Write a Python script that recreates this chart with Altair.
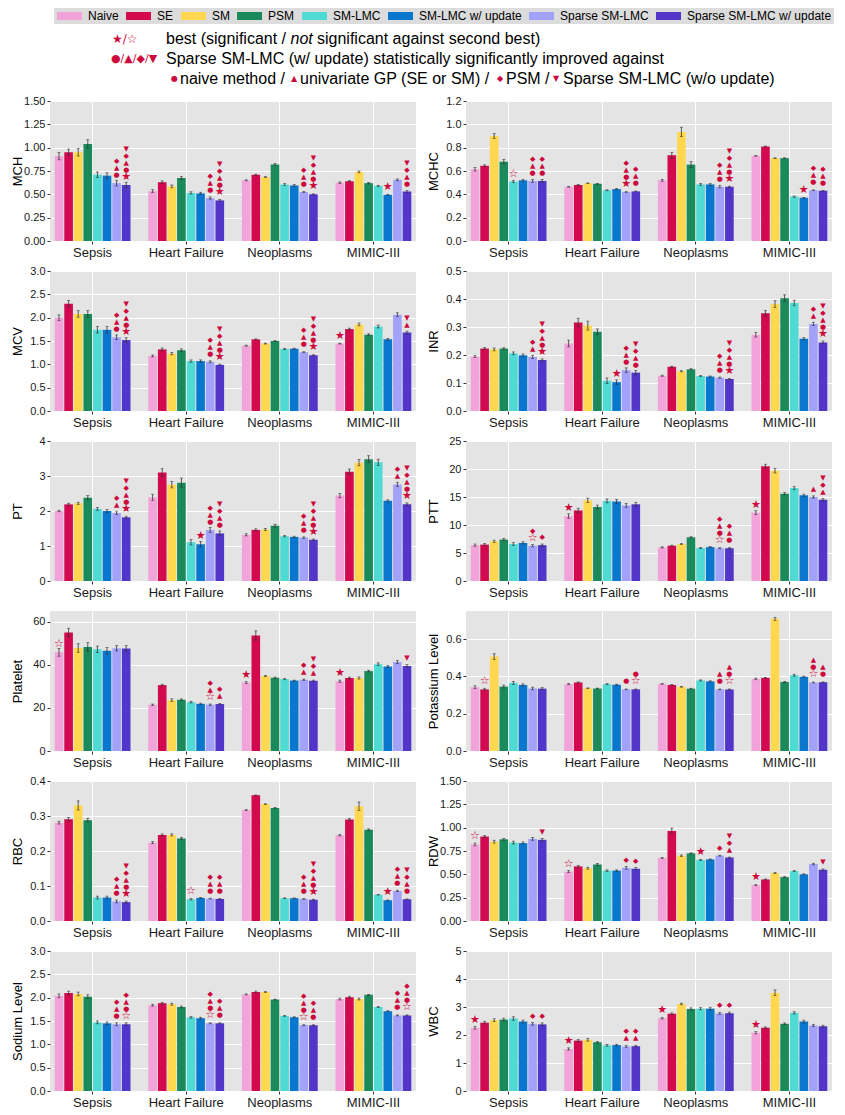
import altair as alt
import pandas as pd

DATASETS = ["Sepsis", "Heart Failure", "Neoplasms", "MIMIC-III"]
METHODS = ["Naive", "SE", "SM", "PSM", "SM-LMC", "SM-LMC w/ update",
           "Sparse SM-LMC", "Sparse SM-LMC w/ update"]
COLORS = ["#F2A3D9", "#D2094E", "#FFD84F", "#1B8A5A", "#4FDBD3", "#0A77CE",
          "#A2A2FB", "#5236C9"]
MARK_RED = "#CC0A3C"
ERR_COLOR = "#333333"

# marker codes: S = best (significant), s = best (not significant),
# c = vs naive, t = vs univariate GP, d = vs PSM, v = vs Sparse SM-LMC (w/o update)
GLYPHS = {"S": "★", "s": "☆", "c": "●", "t": "▲", "d": "◆", "v": "▼"}

# ---------------- data (rows: datasets, cols: methods) ----------------
MCH_VALUES = [[0.91, 0.95, 0.95, 1.04, 0.71, 0.70, 0.62, 0.60],
              [0.535, 0.63, 0.585, 0.675, 0.515, 0.51, 0.46, 0.435],
              [0.65, 0.71, 0.685, 0.82, 0.605, 0.595, 0.525, 0.50],
              [0.625, 0.64, 0.74, 0.62, 0.59, 0.495, 0.655, 0.53]]
MCH_ERRORS = [[0.04, 0.035, 0.04, 0.045, 0.03, 0.03, 0.03, 0.03],
              [0.015, 0.015, 0.015, 0.015, 0.012, 0.012, 0.012, 0.01],
              [0.005, 0.006, 0.005, 0.01, 0.01, 0.01, 0.005, 0.005],
              [0.008, 0.006, 0.01, 0.008, 0.005, 0.005, 0.01, 0.01]]
MCH_MARKS = [["", "", "", "", "", "", "ctd", "Sctdv"],
             ["", "", "", "", "", "", "ctd", "Sctdv"],
             ["", "", "", "", "", "", "ctd", "Sctdv"],
             ["", "", "", "", "", "S", "", "ctdv"]]

MCHC_VALUES = [[0.615, 0.645, 0.90, 0.68, 0.51, 0.52, 0.515, 0.515],
               [0.465, 0.48, 0.495, 0.49, 0.435, 0.445, 0.42, 0.425],
               [0.52, 0.735, 0.935, 0.655, 0.485, 0.485, 0.465, 0.465],
               [0.73, 0.81, 0.71, 0.71, 0.38, 0.37, 0.435, 0.43]]
MCHC_ERRORS = [[0.015, 0.008, 0.02, 0.02, 0.01, 0.008, 0.012, 0.012],
               [0.003, 0.004, 0.003, 0.004, 0.004, 0.004, 0.003, 0.003],
               [0.008, 0.025, 0.04, 0.025, 0.008, 0.008, 0.01, 0.005],
               [0.003, 0.004, 0.003, 0.003, 0.005, 0.003, 0.003, 0.003]]
MCHC_MARKS = [["", "", "", "", "s", "", "ctd", "ctd"],
              ["", "", "", "", "", "", "Sctd", "ctd"],
              ["", "", "", "", "", "", "ctd", "Sctdv"],
              ["", "", "", "", "", "S", "ctd", "ctd"]]

MCV_VALUES = [[2.00, 2.30, 2.08, 2.08, 1.74, 1.74, 1.58, 1.52],
              [1.18, 1.32, 1.23, 1.30, 1.07, 1.07, 1.055, 0.99],
              [1.40, 1.535, 1.445, 1.50, 1.33, 1.335, 1.26, 1.195],
              [1.445, 1.755, 1.855, 1.635, 1.81, 1.535, 2.065, 1.68]]
MCV_ERRORS = [[0.06, 0.07, 0.07, 0.07, 0.07, 0.07, 0.05, 0.05],
              [0.02, 0.03, 0.025, 0.03, 0.025, 0.025, 0.02, 0.015],
              [0.01, 0.01, 0.01, 0.01, 0.01, 0.01, 0.01, 0.01],
              [0.01, 0.02, 0.03, 0.02, 0.03, 0.02, 0.04, 0.03]]
MCV_MARKS = [["", "", "", "", "", "", "ctd", "Sctdv"],
             ["", "", "", "", "", "", "ctd", "Sctdv"],
             ["", "", "", "", "", "", "ctd", "Sctdv"],
             ["S", "", "", "", "", "", "", "tv"]]

INR_VALUES = [[0.195, 0.223, 0.22, 0.223, 0.206, 0.199, 0.193, 0.182],
              [0.241, 0.316, 0.305, 0.283, 0.108, 0.103, 0.146, 0.137],
              [0.126, 0.158, 0.142, 0.149, 0.125, 0.123, 0.119, 0.114],
              [0.272, 0.349, 0.382, 0.403, 0.386, 0.258, 0.311, 0.245]]
INR_ERRORS = [[0.004, 0.004, 0.005, 0.003, 0.005, 0.005, 0.005, 0.004],
              [0.012, 0.015, 0.016, 0.01, 0.01, 0.008, 0.008, 0.008],
              [0.002, 0.002, 0.002, 0.002, 0.002, 0.002, 0.002, 0.002],
              [0.008, 0.01, 0.012, 0.012, 0.01, 0.004, 0.006, 0.005]]
INR_MARKS = [["", "", "", "", "", "", "td", "Sctdv"],
             ["", "", "", "", "", "S", "ctd", "ctdv"],
             ["", "", "", "", "", "", "ctd", "Sctdv"],
             ["", "", "", "", "", "", "td", "Sctdv"]]

PT_VALUES = [[2.0, 2.19, 2.22, 2.38, 2.06, 2.0, 1.94, 1.82],
             [2.39, 3.10, 2.75, 2.81, 1.11, 1.05, 1.46, 1.36],
             [1.32, 1.46, 1.47, 1.58, 1.28, 1.26, 1.24, 1.18],
             [2.44, 3.12, 3.38, 3.48, 3.39, 2.29, 2.76, 2.19]]
PT_ERRORS = [[0.02, 0.03, 0.03, 0.06, 0.04, 0.04, 0.04, 0.03],
             [0.09, 0.11, 0.09, 0.13, 0.08, 0.08, 0.07, 0.07],
             [0.03, 0.03, 0.03, 0.04, 0.02, 0.02, 0.02, 0.02],
             [0.06, 0.08, 0.09, 0.10, 0.09, 0.03, 0.06, 0.04]]
PT_MARKS = [["", "", "", "", "", "", "td", "Sctdv"],
            ["", "", "", "", "", "S", "ctd", "ctdv"],
            ["", "", "", "", "", "", "ctd", "Sctdv"],
            ["", "", "", "", "", "", "td", "Sctdv"]]

PTT_VALUES = [[6.4, 6.5, 7.1, 7.4, 6.6, 6.8, 6.3, 6.4],
              [11.6, 12.6, 14.4, 13.2, 14.3, 14.2, 13.5, 13.7],
              [6.0, 6.3, 6.6, 7.8, 5.9, 6.05, 5.85, 5.85],
              [12.2, 20.5, 19.7, 15.6, 16.6, 15.3, 15.0, 14.5]]
PTT_ERRORS = [[0.2, 0.2, 0.2, 0.2, 0.25, 0.2, 0.2, 0.2],
              [0.4, 0.4, 0.4, 0.35, 0.35, 0.35, 0.35, 0.35],
              [0.1, 0.1, 0.1, 0.1, 0.1, 0.1, 0.1, 0.1],
              [0.35, 0.35, 0.4, 0.2, 0.3, 0.2, 0.2, 0.25]]
PTT_MARKS = [["", "", "", "", "", "", "sd", "d"],
             ["S", "", "", "", "", "", "", ""],
             ["", "", "", "", "", "", "sctd", "ctd"],
             ["S", "", "", "", "", "", "t", "tdv"]]

PLATELET_VALUES = [[45.8, 55.0, 47.8, 48.3, 47.2, 46.5, 47.7, 47.6],
                   [21.5, 30.6, 23.6, 23.8, 22.7, 21.9, 21.5, 21.8],
                   [31.8, 53.6, 34.8, 34.0, 33.4, 32.7, 33.1, 32.6],
                   [32.4, 33.9, 33.9, 37.1, 40.3, 39.2, 41.3, 39.5]]
PLATELET_ERRORS = [[1.8, 2.0, 2.0, 2.0, 1.5, 1.5, 1.2, 1.3],
                   [0.3, 0.4, 0.6, 0.4, 0.4, 0.3, 0.3, 0.3],
                   [0.4, 2.2, 0.3, 0.3, 0.3, 0.2, 0.3, 0.3],
                   [0.5, 0.4, 0.5, 0.4, 0.6, 0.5, 0.7, 0.6]]
PLATELET_MARKS = [["s", "", "", "", "", "", "", ""],
                  ["", "", "", "", "", "", "std", "td"],
                  ["S", "", "", "", "", "", "td", "tdv"],
                  ["S", "", "", "", "", "", "", "v"]]

POTASSIUM_VALUES = [[0.342, 0.330, 0.506, 0.345, 0.365, 0.354, 0.335, 0.334],
                    [0.358, 0.367, 0.336, 0.335, 0.358, 0.355, 0.330, 0.330],
                    [0.360, 0.354, 0.344, 0.334, 0.378, 0.373, 0.330, 0.330],
                    [0.386, 0.392, 0.708, 0.370, 0.406, 0.398, 0.367, 0.368]]
POTASSIUM_ERRORS = [[0.007, 0.006, 0.015, 0.008, 0.008, 0.006, 0.007, 0.006],
                    [0.003, 0.003, 0.002, 0.002, 0.003, 0.003, 0.002, 0.002],
                    [0.002, 0.002, 0.002, 0.002, 0.003, 0.003, 0.002, 0.002],
                    [0.004, 0.002, 0.008, 0.003, 0.005, 0.003, 0.002, 0.002]]
POTASSIUM_MARKS = [["", "s", "", "", "", "", "", ""],
                   ["", "", "", "", "", "", "c", "sc"],
                   ["", "", "", "", "", "", "ct", "sct"],
                   ["", "", "", "", "", "", "sct", "ct"]]

RBC_VALUES = [[0.281, 0.291, 0.330, 0.288, 0.067, 0.067, 0.056, 0.054],
              [0.224, 0.246, 0.246, 0.236, 0.062, 0.066, 0.064, 0.063],
              [0.317, 0.359, 0.334, 0.323, 0.065, 0.065, 0.063, 0.061],
              [0.245, 0.290, 0.328, 0.261, 0.075, 0.059, 0.086, 0.062]]
RBC_ERRORS = [[0.004, 0.005, 0.013, 0.005, 0.004, 0.004, 0.004, 0.003],
              [0.003, 0.003, 0.003, 0.003, 0.002, 0.001, 0.001, 0.001],
              [0.001, 0.001, 0.001, 0.001, 0.001, 0.001, 0.001, 0.001],
              [0.002, 0.003, 0.012, 0.002, 0.001, 0.001, 0.002, 0.001]]
RBC_MARKS = [["", "", "", "", "", "", "ctd", "Sctdv"],
             ["", "", "", "", "s", "", "ctd", "ctd"],
             ["", "", "", "", "", "", "ctd", "Sctdv"],
             ["", "", "", "", "", "S", "ctd", "ctdv"]]

RDW_VALUES = [[0.82, 0.905, 0.85, 0.875, 0.84, 0.835, 0.88, 0.87],
              [0.53, 0.585, 0.565, 0.605, 0.54, 0.54, 0.57, 0.56],
              [0.675, 0.965, 0.70, 0.725, 0.655, 0.66, 0.70, 0.68],
              [0.385, 0.445, 0.515, 0.47, 0.535, 0.50, 0.61, 0.55]]
RDW_ERRORS = [[0.015, 0.012, 0.015, 0.01, 0.015, 0.012, 0.015, 0.015],
              [0.01, 0.01, 0.01, 0.012, 0.008, 0.008, 0.015, 0.012],
              [0.005, 0.03, 0.008, 0.005, 0.005, 0.005, 0.005, 0.005],
              [0.005, 0.005, 0.005, 0.005, 0.005, 0.005, 0.008, 0.008]]
RDW_MARKS = [["s", "", "", "", "", "", "", "v"],
             ["s", "", "", "", "", "", "d", "d"],
             ["", "", "", "", "S", "", "d", "tdv"],
             ["S", "", "", "", "", "", "", "v"]]

SODIUM_VALUES = [[2.04, 2.10, 2.08, 2.02, 1.47, 1.45, 1.43, 1.43],
                 [1.84, 1.88, 1.86, 1.80, 1.58, 1.56, 1.45, 1.45],
                 [2.07, 2.12, 2.12, 1.96, 1.61, 1.58, 1.41, 1.41],
                 [1.97, 2.01, 1.97, 2.06, 1.80, 1.71, 1.62, 1.62]]
SODIUM_ERRORS = [[0.04, 0.04, 0.04, 0.04, 0.03, 0.03, 0.03, 0.03],
                 [0.02, 0.02, 0.02, 0.02, 0.02, 0.02, 0.01, 0.01],
                 [0.01, 0.02, 0.01, 0.01, 0.01, 0.01, 0.01, 0.01],
                 [0.02, 0.02, 0.02, 0.01, 0.01, 0.01, 0.01, 0.01]]
SODIUM_MARKS = [["", "", "", "", "", "", "ctd", "sctd"],
                ["", "", "", "", "", "", "sctd", "ctd"],
                ["", "", "", "", "", "", "sctd", "ctd"],
                ["", "", "", "", "", "", "ctd", "sctd"]]

WBC_VALUES = [[2.26, 2.44, 2.53, 2.55, 2.59, 2.48, 2.40, 2.38],
              [1.50, 1.80, 1.83, 1.74, 1.63, 1.64, 1.59, 1.60],
              [2.60, 2.76, 3.11, 2.93, 2.94, 2.94, 2.77, 2.78],
              [2.08, 2.26, 3.51, 2.40, 2.79, 2.48, 2.34, 2.31]]
WBC_ERRORS = [[0.05, 0.05, 0.05, 0.05, 0.06, 0.05, 0.05, 0.05],
              [0.04, 0.04, 0.05, 0.03, 0.03, 0.03, 0.03, 0.03],
              [0.03, 0.03, 0.03, 0.04, 0.04, 0.05, 0.04, 0.04],
              [0.04, 0.03, 0.10, 0.03, 0.04, 0.05, 0.04, 0.04]]
WBC_MARKS = [["S", "", "", "", "", "", "d", "d"],
             ["S", "", "", "", "", "", "td", "td"],
             ["S", "", "", "", "", "", "d", "d"],
             ["S", "", "", "", "", "", "", ""]]

# (y title, values, errors, markers, y max, tick values, tick format)
PANELS = [
    ("MCH", MCH_VALUES, MCH_ERRORS, MCH_MARKS, 1.5, [0, 0.25, 0.5, 0.75, 1.0, 1.25, 1.5], ".2f"),
    ("MCHC", MCHC_VALUES, MCHC_ERRORS, MCHC_MARKS, 1.2, [0, 0.2, 0.4, 0.6, 0.8, 1.0, 1.2], ".1f"),
    ("MCV", MCV_VALUES, MCV_ERRORS, MCV_MARKS, 3.0, [0, 0.5, 1.0, 1.5, 2.0, 2.5, 3.0], ".1f"),
    ("INR", INR_VALUES, INR_ERRORS, INR_MARKS, 0.5, [0, 0.1, 0.2, 0.3, 0.4, 0.5], ".1f"),
    ("PT", PT_VALUES, PT_ERRORS, PT_MARKS, 4, [0, 1, 2, 3, 4], "d"),
    ("PTT", PTT_VALUES, PTT_ERRORS, PTT_MARKS, 25, [0, 5, 10, 15, 20, 25], "d"),
    ("Platelet", PLATELET_VALUES, PLATELET_ERRORS, PLATELET_MARKS, 65, [0, 20, 40, 60], "d"),
    ("Potassium Level", POTASSIUM_VALUES, POTASSIUM_ERRORS, POTASSIUM_MARKS, 0.75, [0, 0.2, 0.4, 0.6], ".1f"),
    ("RBC", RBC_VALUES, RBC_ERRORS, RBC_MARKS, 0.4, [0, 0.1, 0.2, 0.3, 0.4], ".1f"),
    ("RDW", RDW_VALUES, RDW_ERRORS, RDW_MARKS, 1.5, [0, 0.25, 0.5, 0.75, 1.0, 1.25, 1.5], ".2f"),
    ("Sodium Level", SODIUM_VALUES, SODIUM_ERRORS, SODIUM_MARKS, 3.0, [0, 0.5, 1.0, 1.5, 2.0, 2.5, 3.0], ".1f"),
    ("WBC", WBC_VALUES, WBC_ERRORS, WBC_MARKS, 5, [0, 1, 2, 3, 4, 5], "d"),
]

# header annotation pieces: (text, style)
HEADER_LINES = [
    [("★/☆", "sym"), ("best (significant /", "txt"), ("not", "ital"),
     ("significant against second best)", "txt")],
    [("●/▲/◆/▼", "sym1"),
     ("Sparse SM-LMC (w/ update) statistically significantly improved against", "txt")],
    [("●", "sym2"), ("naive method /", "txt"), ("▲", "sym2"),
     ("univariate GP (SE or SM) /", "txt"), ("◆", "sym2"), ("PSM /", "txt"),
     ("▼", "sym2"), ("Sparse SM-LMC (w/o update)", "txt")],
]
# layout of the header pieces, in pixels relative to the first panel's plot area
HEADER_X = [[62, 116, 240.5, 267], [61, 116],
            [121, 130, 241, 250, 447, 456, 503, 513]]
HEADER_Y = [-62, -42, -22]

PW, PH = 366, 140

LEGEND = alt.Legend(
    orient="none", legendX=4, legendY=-93, direction="horizontal", columns=8,
    title=None, symbolType="M-1,-0.8L4,-0.8L4,0.8L-1,0.8Z", symbolSize=100,
    symbolStrokeWidth=0, symbolOpacity=1, labelFontSize=12, labelFont="Liberation Sans",
    labelColor="black", labelOffset=20, columnPadding=6, padding=2,
    fillColor="#DCDCDC", labelLimit=0,
)


def header_layers():
    out = []
    for line, xs, yy in zip(HEADER_LINES, HEADER_X, HEADER_Y):
        for (txt, style), xx in zip(line, xs):
            props = dict(align="left", baseline="middle")
            if style == "txt":
                props.update(font="Liberation Sans", fontSize=16, color="black")
            elif style == "ital":
                props.update(font="Liberation Sans", fontSize=16, color="black", fontStyle="italic")
            elif style == "sym":
                props.update(font="DejaVu Sans", fontSize=12, color=MARK_RED)
            elif style == "sym1":
                props.update(font="DejaVu Sans", fontSize=11, color=MARK_RED)
            else:
                props.update(font="DejaVu Sans", fontSize=8, color=MARK_RED)
            out.append(
                alt.Chart(pd.DataFrame({"t": [txt]})).mark_text(**props).encode(
                    text="t:N", x=alt.value(xx), y=alt.value(yy))
            )
    return out


def make_panel(title, values, errors, marks, ymax, ticks, fmt, header=False):
    rows, mrows = [], []
    for i, ds in enumerate(DATASETS):
        for j, m in enumerate(METHODS):
            v, e = values[i][j], errors[i][j]
            rows.append(dict(dataset=ds, method=m, value=v, lo=v - e, hi=v + e))
            for k, code in enumerate(marks[i][j]):
                mrows.append(dict(dataset=ds, method=m, value=v, level=k,
                                  glyph=GLYPHS[code], star=int(code in "Ss")))
    df = pd.DataFrame(rows)
    mdf = pd.DataFrame(mrows, columns=["dataset", "method", "value", "level", "glyph", "star"])

    x = alt.X("dataset:N", sort=DATASETS,
              scale=alt.Scale(domain=DATASETS, paddingInner=0.19, paddingOuter=0.05),
              axis=alt.Axis(title=None, labelAngle=0, bandPosition=0.5, grid=True))
    xo = alt.XOffset("method:N", sort=METHODS,
                     scale=alt.Scale(domain=METHODS, paddingInner=0.1))
    ysc = alt.Scale(domain=[0, ymax], nice=False, zero=True)
    yax = alt.Axis(title=title, values=ticks, format=fmt)
    color = alt.Color("method:N", sort=METHODS,
                      scale=alt.Scale(domain=METHODS, range=COLORS), legend=LEGEND)

    base = alt.Chart(df)
    bars = base.mark_bar().encode(
        x=x, xOffset=xo, y=alt.Y("value:Q", scale=ysc, axis=yax), color=color)
    err = base.mark_rule(color=ERR_COLOR, strokeWidth=0.8).encode(
        x=x, xOffset=xo, y=alt.Y("lo:Q", scale=ysc, axis=yax), y2="hi:Q")
    cap_hi = base.mark_tick(color=ERR_COLOR, thickness=0.8, size=3).encode(
        x=x, xOffset=xo, y=alt.Y("hi:Q", scale=ysc, axis=yax))
    cap_lo = base.mark_tick(color=ERR_COLOR, thickness=0.8, size=3).encode(
        x=x, xOffset=xo, y=alt.Y("lo:Q", scale=ysc, axis=yax))
    layers = [bars, err, cap_hi, cap_lo]

    mk = alt.Chart(mdf)
    for k in range(5):
        for is_star, fs in ((1, 11), (0, 7)):
            if is_star and k > 0:
                continue
            layers.append(
                mk.transform_filter(
                    (alt.datum.level == k) & (alt.datum.star == is_star)
                ).mark_text(dy=-(8 + 7 * k), baseline="middle", align="center",
                            font="DejaVu Sans", fontSize=fs, color=MARK_RED).encode(
                    x=x, xOffset=xo, y=alt.Y("value:Q", scale=ysc, axis=yax),
                    text="glyph:N")
            )
    if header:
        layers += header_layers()
    return alt.layer(*layers).properties(width=PW, height=PH)


panels = [make_panel(*p, header=(n == 0)) for n, p in enumerate(PANELS)]

chart = alt.concat(*panels, columns=2, spacing={"row": 30, "column": 50},
                   bounds="flush").properties(
    padding={"left": 3, "top": 0, "right": 0, "bottom": 0})

chart = (
    chart.configure(font="Liberation Sans")
    .configure_view(stroke=None, fill="#E4E4E4")
    .configure_axis(gridColor="white", gridWidth=1, domain=False, tickColor="#333333",
                    tickSize=3, labelColor="#1a1a1a", labelFont="Liberation Sans",
                    titleFont="Liberation Sans", titleColor="black",
                    titleFontWeight="normal")
    .configure_axisX(labelFontSize=13, labelPadding=2)
    .configure_axisY(labelFontSize=11, labelPadding=2, titleFontSize=13,
                     titlePadding=0, minExtent=26, maxExtent=26)
)

chart.save("out.html", embed_options={"renderer": "svg", "actions": False})
